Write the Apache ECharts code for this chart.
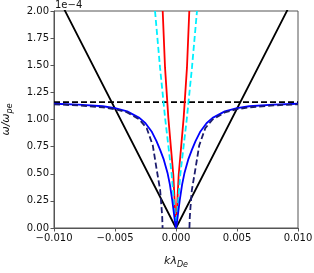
<!DOCTYPE html>
<html>
<head>
<meta charset="utf-8">
<script src="https://cdn.jsdelivr.net/npm/echarts@6/dist/echarts.min.js"></script>
<style>html,body{margin:0;padding:0;background:#fff}#c{width:314px;height:273px}</style>
</head>
<body>
<div id="c"></div>
<script>
// x ticks and y ticks
var xTicks = [-0.010, -0.005, 0.000, 0.005, 0.010];
var yTicks = [0.00, 0.25, 0.50, 0.75, 1.00, 1.25, 1.50, 1.75, 2.00];

// black solid V
var kBlack = [-0.010, 0.000, 0.010];
var wBlack = [2.20, 0.00, 2.20];

// black dashed horizontal
var kFlat = [-0.010, 0.010];
var wFlat = [1.16, 1.16];

// red solid
var kRed = [-0.00109, -0.0009, -0.00063, -0.0004, -0.00022, -0.0001, 0.0, 0.0001, 0.00022, 0.0004, 0.00063, 0.0009, 0.00109];
var wRed = [2.00, 1.48, 1.02, 0.72, 0.49, 0.22, 0.0, 0.22, 0.49, 0.72, 1.02, 1.48, 2.00];

// cyan dashed
var kCyan = [-0.00172, -0.00131, -0.00088, -0.00035, 0.0, 0.00035, 0.00088, 0.00131, 0.00172];
var wCyan = [2.00, 1.48, 1.00, 0.49, 0.0, 0.49, 1.00, 1.48, 2.00];

// blue solid
var kBlue = [-0.010, -0.008, -0.006, -0.005, -0.004, -0.003, -0.0025, -0.002, -0.0016, -0.0013, -0.001, -0.0007, -0.0005, -0.0003, -0.0002, -0.0001, 0.0,
             0.0001, 0.0002, 0.0003, 0.0005, 0.0007, 0.001, 0.0013, 0.0016, 0.002, 0.0025, 0.003, 0.004, 0.005, 0.006, 0.008, 0.010];
var wBlue = [1.145, 1.137, 1.122, 1.105, 1.075, 1.015, 0.965, 0.89, 0.80, 0.72, 0.63, 0.51, 0.40, 0.25, 0.16, 0.07, 0.0,
             0.07, 0.16, 0.25, 0.40, 0.51, 0.63, 0.72, 0.80, 0.89, 0.965, 1.015, 1.075, 1.105, 1.122, 1.137, 1.145];

// navy dashed (two branches)
var kNavyL = [-0.010, -0.008, -0.006, -0.005, -0.004, -0.003, -0.0024, -0.0019, -0.0016, -0.0013, -0.00118, -0.00113, -0.0011];
var wNavyL = [1.14, 1.13, 1.112, 1.095, 1.065, 1.00, 0.92, 0.76, 0.55, 0.35, 0.18, 0.10, 0.0];
var kNavyR = [0.0011, 0.00113, 0.00118, 0.0013, 0.0016, 0.0019, 0.0024, 0.003, 0.004, 0.005, 0.006, 0.008, 0.010];
var wNavyR = [0.0, 0.10, 0.18, 0.35, 0.55, 0.76, 0.92, 1.00, 1.065, 1.095, 1.112, 1.13, 1.14];

function pairs(k, w) { return k.map(function (v, i) { return [v, w[i]]; }); }

var chart = echarts.init(document.getElementById('c'), null, { renderer: 'canvas' });
var font = 'DejaVu Sans';
function lineSeries(k, w, color, dashed, z) {
  return {
    type: 'line', data: pairs(k, w), showSymbol: false, symbol: 'none', z: z,
    lineStyle: { color: color, width: 1.8, type: dashed ? [6, 3] : 'solid' },
    emphasis: { disabled: true }, animation: false, clip: true
  };
}
var rich = {
  i: { fontFamily: font, fontStyle: 'italic', fontSize: 11, color: '#111', lineHeight: 15 },
  s: { fontFamily: font, fontStyle: 'italic', fontSize: 8, color: '#111', lineHeight: 9, padding: [6, 0, 0, 0], verticalAlign: 'bottom' }
};
chart.setOption({
  animation: false,
  grid: { left: 54, right: 16, top: 11, bottom: 45, containLabel: false, outerBoundsMode: 'none',
          show: true, borderColor: '#555', borderWidth: 1 },
  graphic: [{ type: 'text', left: 55, top: 0, style: { text: '1e\u22124', font: '10px "DejaVu Sans"', fill: '#111' } }],
  xAxis: {
    type: 'value', min: xTicks[0], max: xTicks[xTicks.length - 1], interval: 0.005,
    name: '{i|k\u03bb}{s|De}', nameLocation: 'middle', nameGap: 26,
    nameTextStyle: { rich: rich },
    axisLine: { show: true, onZero: false, lineStyle: { color: '#555', width: 1 } },
    axisTick: { show: true, length: 3.5, lineStyle: { color: '#555' } },
    axisLabel: { fontFamily: font, fontSize: 10, color: '#111', margin: 5,
      formatter: function (v) { return (v < 0 ? '\u2212' : '') + Math.abs(v).toFixed(3); } },
    splitLine: { show: false }
  },
  yAxis: {
    type: 'value', min: yTicks[0], max: yTicks[yTicks.length - 1], interval: 0.25,
    name: '{i|\u03c9/\u03c9}{s|pe}', nameLocation: 'middle', nameGap: 40, nameRotate: 90,
    nameTextStyle: { rich: rich },
    axisLine: { show: true, onZero: false, lineStyle: { color: '#555', width: 1 } },
    axisTick: { show: true, length: 3.5, lineStyle: { color: '#555' } },
    axisLabel: { fontFamily: font, fontSize: 10, color: '#111', margin: 5,
      formatter: function (v) { return v.toFixed(2); } },
    splitLine: { show: false }
  },
  series: [
    lineSeries(kBlack, wBlack, '#000000', false, 2),
    lineSeries(kFlat, wFlat, '#000000', true, 3),
    lineSeries(kRed, wRed, '#ff0000', false, 4),
    lineSeries(kCyan, wCyan, '#00f0ff', true, 5),
    lineSeries(kBlue, wBlue, '#0000ff', false, 6),
    lineSeries(kNavyL, wNavyL, '#1c1c6e', true, 7),
    lineSeries(kNavyR, wNavyR, '#1c1c6e', true, 7)
  ]
});
</script>
</body>
</html>
